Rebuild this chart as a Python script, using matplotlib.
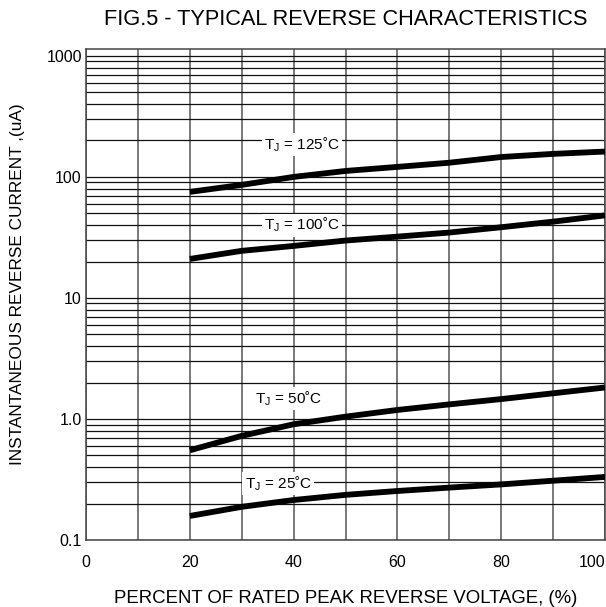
import numpy as np
import matplotlib
matplotlib.use("Agg")
import matplotlib.pyplot as plt
from matplotlib.ticker import FixedLocator, LogLocator, NullFormatter

plt.rcParams['font.family'] = ['Liberation Sans', 'DejaVu Sans']

# percent of rated peak reverse voltage
volt_pct = [20, 30, 40, 50, 60, 70, 80, 90, 100]

# instantaneous reverse current (uA)
i_125 = [75.2, 85.9, 100, 112, 121, 131, 146, 155, 162]
i_100 = [21.0, 24.5, 26.9, 29.8, 32.1, 34.7, 38.4, 42.7, 48.1]
i_50 = [0.551, 0.725, 0.904, 1.045, 1.187, 1.32, 1.46, 1.63, 1.82]
i_25 = [0.158, 0.188, 0.214, 0.236, 0.254, 0.271, 0.288, 0.309, 0.332]

curves = [i_125, i_100, i_50, i_25]
labels = ["T$_{\\mathregular{J}}$ = 125˚C", "T$_{\\mathregular{J}}$ = 100˚C",
          "T$_{\\mathregular{J}}$ = 50˚C", "T$_{\\mathregular{J}}$ = 25˚C"]
label_pos = [(41.6, 184), (41.6, 40), (39.1, 1.48), (37.0, 0.294)]

x_ticks = [0, 20, 40, 60, 80, 100]
y_ticks = [0.1, 1, 10, 100, 1000]
y_ticklabels = ["0.1", "1.0", "10", "100", "1000"]

fig = plt.figure(figsize=(6.06, 6.07), dpi=100)
ax = fig.add_axes([86 / 606, 67 / 607, 519 / 606, 491 / 607])

ax.set_yscale('log')
ax.set_xlim(0, 100)
ax.set_ylim(0.1, 1140)

ax.xaxis.set_major_locator(FixedLocator(x_ticks))
ax.xaxis.set_minor_locator(FixedLocator(range(0, 101, 10)))
ax.yaxis.set_major_locator(FixedLocator(y_ticks))
ax.set_yticklabels(y_ticklabels)
ax.yaxis.set_minor_locator(LogLocator(base=10, subs=np.arange(2, 10)))
ax.yaxis.set_minor_formatter(NullFormatter())

ax.grid(which='both', axis='x', color='#555555', linewidth=1.1)
ax.grid(which='both', axis='y', color='#111111', linewidth=0.9)
ax.tick_params(which='both', length=0)
ax.tick_params(axis='x', pad=11, labelsize=11.5)
ax.tick_params(axis='y', pad=3, labelsize=11.5)
# last x label sits inside the figure edge, as in the original
ax.get_xticklabels()[-1].set_horizontalalignment('right')
for sp in ax.spines.values():
    sp.set_color('#444444')
    sp.set_linewidth(1.1)

for vals in curves:
    ax.plot(volt_pct, vals, color='black', linewidth=4.2, solid_capstyle='butt', zorder=3)

for txt, (lx, ly) in zip(labels, label_pos):
    ax.text(lx, ly, txt, ha='center', va='center', fontsize=11, zorder=4,
            bbox=dict(facecolor='white', edgecolor='none', pad=1.5))

ax.set_title("FIG.5 - TYPICAL REVERSE CHARACTERISTICS", fontsize=15.7, pad=17)
ax.set_xlabel("PERCENT OF RATED PEAK REVERSE VOLTAGE, (%)", fontsize=13.4, labelpad=14)
ax.set_ylabel("INSTANTANEOUS REVERSE CURRENT ,(uA)", fontsize=12.4)
ax.yaxis.set_label_coords(-0.118, 0.52)

fig.savefig("out.png", dpi=100)
